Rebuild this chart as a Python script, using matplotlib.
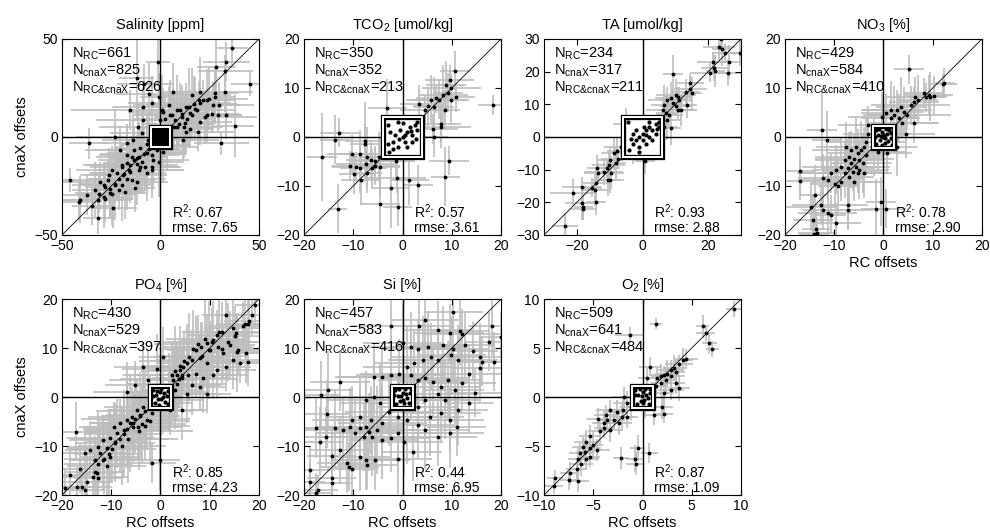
import matplotlib
matplotlib.use("Agg")
import matplotlib.pyplot as plt
from matplotlib.patches import Rectangle
import numpy as np

plt.rcParams['font.family'] = ['Liberation Sans', 'DejaVu Sans']
plt.rcParams['mathtext.fontset'] = 'custom'
plt.rcParams['mathtext.rm'] = 'Liberation Sans'

# ---- data: (RC offset, cnaX offset, RC err, cnaX err) ----
sal_pts = [
    (36.3, 45.2, 8, 10), (-1.1, 38.1, 6, 12), (33.5, 38.4, 12, 10), (28.4, 35.9, 10, 14),
    (32.8, 33.8, 14, 8), (45.6, 27, 10, 6), (-12.1, 29.9, 9, 20), (-8.3, 27, 14, 10),
    (-5.6, 22, 18, 16), (-0.6, 20.6, 10, 12), (6.5, 23, 8, 15), (15.8, 21.4, 20, 14),
    (20, 23, 12, 18), (21.7, 18.9, 16, 10), (13.2, 15.5, 18, 12), (9.9, 13.8, 22, 14),
    (4.8, 11.2, 16, 18), (7.3, 8.7, 12, 10), (10.7, 10.4, 14, 16), (14.9, 12.1, 10, 12),
    (18.3, 13.8, 20, 9), (23.4, 11.2, 16, 14), (29.3, 11.2, 12, 8), (33.5, 11.2, 8, 12),
    (37.7, 5.6, 10, 16), (30.9, -3.2, 14, 6), (8.2, 5.3, 16, 12), (12.4, 7, 10, 14),
    (4, 4.4, 12, 8), (19.1, 2.7, 18, 10), (-8.7, 8.7, 24, 12), (-15.4, 13.8, 30, 10),
    (-23, 0.2, 20, 14), (-36.5, -3.2, 10, 8), (-13.7, -1.5, 16, 16), (-10.4, -5.8, 12, 10),
    (-7, -8.3, 20, 18), (-12.1, -10.9, 14, 12), (-14.6, -10, 18, 10), (-17.1, -13.4, 12, 14),
    (-19.6, -15.1, 16, 12), (-15.4, -17.7, 10, 16), (-18.8, -19.4, 22, 10), (-22.2, -18.5, 14, 14),
    (-24.7, -16.8, 18, 12), (-26.4, -21.9, 12, 10), (-23, -24.5, 16, 18), (-28.1, -25.3, 10, 12),
    (-30.6, -22.8, 20, 10), (-33.1, -27, 12, 14), (-37.4, -29.6, 14, 10), (-40.7, -32.1, 10, 12),
    (-31.5, -32.1, 16, 8), (-28.9, -30.4, 12, 16), (-25.5, -28.7, 18, 12), (-21.3, -27, 14, 10),
    (-17.9, -27.9, 10, 14), (-12.1, -22.8, 16, 12), (-23.9, -36.4, 12, 10), (-31.5, -41.5, 8, 8),
    (-45.8, -21.9, 10, 6), (-41.6, -33, 12, 10), (-3.6, -11.7, 18, 14), (-1.9, -6.6, 14, 10),
    (1.4, -7.5, 12, 16), (3.1, -4.9, 16, 12), (13.2, 2.7, 14, 10), (11.5, -1.5, 18, 12),
    (26.7, 16.3, 14, 12), (23.4, 18.9, 10, 16), (20, 17.2, 16, 10), (27.6, 22.3, 12, 14),
    (-8.7, 15.5, 16, 10), (-4.5, 17.2, 12, 14), (1.4, 12.9, 18, 12), (-0.2, 8.7, 14, 16),
    (-11.2, 5.3, 20, 12), (-9.5, 1.9, 16, 14), (-17.1, -3.2, 14, 10), (-20.5, -6.6, 18, 12),
    (-6.2, -1.5, 12, 10), (-4.5, -15.1, 14, 12), (-7, -18.5, 10, 14), (-10.4, -15.1, 16, 12),
    (-14.6, -21.9, 12, 10), (-12.9, -26.2, 10, 12),
    (5.8, 11.1, 20, 12), (8.4, 13.6, 14, 18), (10.9, 11.9, 24, 10), (13.5, 9.4, 12, 14),
    (16, 11.1, 18, 12), (17.7, 14.5, 10, 16), (19.4, 18.7, 16, 10), (16.8, 17, 22, 14),
    (14.3, 15.3, 12, 20), (9.2, 6.8, 18, 12), (6.7, 5.1, 14, 10), (11.8, 5.1, 20, 16),
    (15.1, 4.3, 12, 10), (20.2, 7.7, 16, 12), (22.8, 10.2, 26, 14), (26.1, 11.9, 14, 10),
    (29.5, 16.2, 18, 12), (27.8, 20.4, 10, 14), (32.9, 22.9, 14, 10), (24.5, 19.6, 20, 16),
    (2.5, 9.4, 16, 12), (0.8, 13.6, 12, 18), (4.1, 16.2, 18, 10),
    (-6, -5.9, 16, 12), (-8.5, -8.5, 22, 14), (-11.1, -10.2, 14, 18), (-13.6, -11.9, 18, 10),
    (-11.9, -13.6, 12, 14), (-15.3, -14.5, 24, 12), (-9.4, -12.8, 14, 16), (-7.7, -15.3, 18, 12),
    (-16.2, -17, 12, 14), (-18.7, -18.7, 16, 10), (-17, -21.3, 20, 16), (-21.2, -21.3, 12, 12),
    (-19.5, -24.7, 14, 18), (-22.9, -23.8, 18, 10), (-25.5, -26.4, 10, 14), (-11.1, -17, 22, 12),
    (-4.3, -9.4, 14, 16), (-2.6, -4.3, 18, 12), (-6.9, -3.4, 12, 14), (-13.6, -6.8, 20, 12),
    (-17, -9.4, 14, 16), (-19.5, -14.5, 18, 10), (-26.3, -19.6, 12, 14), (-28.8, -24.7, 16, 12),
    (-31.4, -29, 10, 10), (-28, -31.6, 14, 12), (-24.6, -29, 12, 16), (-34.8, -35, 10, 10),
    (-4.3, -17, 16, 14), (-0.9, -12.8, 12, 18),
]
sal_box = [
    (-3.5, 3.2), (-2.8, 1.5), (-2, 2.8), (-1.2, 0.5), (-0.5, 2), (0.3, 1.2), (1, 3), (1.8, 0.8),
    (2.5, 2.2), (3.2, 1), (3.6, 3.5), (-3.8, -0.5), (-3, -2), (-2.2, -0.8), (-1.5, -3), (-0.8, -1.2),
    (0, -0.3), (0.8, -2), (1.5, -0.8), (2.2, -2.8), (3, -1.5), (3.7, -3.3), (-3.4, -3.6), (-1, 3.6),
    (0.5, 3.8), (2.8, 3.8), (-2.5, -3.8), (0.2, -3.6), (3.8, 0), (-3.9, 1.8), (1.2, 1.5), (-1.8, -1.8),
    (2, 0), (-0.2, 0.8),
]

tco2_pts = [
    (10.6, 13.5, 3, 4), (9.6, 11.6, 5, 3), (8.8, 10.6, 4, 5), (9.9, 10.1, 6, 3), (9.2, 9.0, 3, 4),
    (8.2, 8.6, 5, 6), (10.8, 8.2, 4, 3), (9.8, 7.6, 3, 5), (7.5, 7.6, 6, 4), (6.8, 7.9, 4, 3),
    (5.8, 7.6, 5, 5), (5.1, 6.3, 3, 4), (6.4, 6.2, 4, 6), (4.5, 5.5, 5, 3), (8.7, 5.5, 3, 4),
    (7.9, 2.7, 4, 5), (7.8, 2.0, 6, 3), (6.3, -0.1, 3, 4), (6.2, 1.6, 5, 3), (3.4, 6.7, 4, 4),
    (18.4, 6.5, 3, 2), (-3.1, 5.9, 4, 6), (-12.8, 0.9, 4, 3), (-13.7, -0.6, 3, 5), (-7.7, -0.9, 4, 8),
    (-7.7, -1.4, 3, 4), (-10.3, -3.5, 5, 4), (-8.6, -3.5, 4, 5), (-7.2, -4.0, 3, 6), (-6.5, -4.7, 5, 4),
    (-5.5, -5.0, 4, 3), (-4.8, -4.0, 3, 5), (-5.5, -5.9, 5, 4), (-4.5, -6.1, 4, 6), (-6.2, -6.4, 3, 4),
    (-7.5, -5.6, 6, 3), (-8.6, -6.4, 4, 5), (-9.9, -7.6, 3, 4), (-9.4, -6.1, 5, 3), (-8.4, -8.8, 4, 5),
    (-7.2, -7.4, 3, 4), (-10.6, -5.9, 4, 3), (-16.4, -4.1, 3, 9), (-1.4, -5.0, 4, 4), (-1.2, -8.4, 6, 3),
    (1.4, -8.8, 4, 5), (3.1, -9.8, 3, 4), (9.4, -4.8, 4, 3), (8.7, -8.1, 3, 6), (-4.6, -13.7, 4, 6),
    (-1.0, -14.2, 3, 4), (-13.2, -14.6, 2, 5), (-2.4, -10.5, 4, 8),
]
tco2_box = [
    (-3, 2.5), (-2.5, 1), (-2, -1), (-1.5, 0.5), (-1, -2), (-0.5, 1.5), (0, 0), (0.5, -1), (1, 1),
    (1.5, 2), (2, 0.5), (2.5, 2.5), (3, 1.5), (-2, -2.5), (-3, -1.5), (1, -2), (2, -1), (0, 2.8),
    (-1, 3), (3, 3), (-2.8, -3), (0.5, 0.5), (1.8, 1.2), (-0.8, -0.5), (2.8, -0.5),
]

ta_pts = [
    (23.8, 29.9, 4, 3), (23.3, 27.7, 5, 4), (24.1, 26.8, 3, 5), (25.1, 25.6, 4, 3), (29.7, 25.6, 3, 4),
    (26.3, 23.1, 4, 5), (21.5, 23.1, 5, 3), (21.8, 21.0, 4, 4), (20.5, 19.7, 6, 3), (22.2, 20.2, 3, 5),
    (26.1, 19.5, 4, 4), (9.2, 19.2, 3, 6), (14.6, 16.4, 4, 3), (14.6, 14.6, 5, 4), (15.1, 13.4, 3, 5),
    (13.3, 13.9, 4, 4), (10.2, 12.9, 6, 5), (10.7, 12.3, 4, 3), (11.2, 11.3, 3, 4), (8.7, 11.8, 5, 5),
    (7.6, 11.3, 6, 4), (6.6, 9.8, 4, 6), (9.2, 10.3, 3, 4), (10.2, 9.5, 5, 3), (11.7, 8.3, 4, 5),
    (6.1, 8.3, 5, 4), (7.1, 7.4, 3, 5), (8.2, 6.7, 4, 4), (10.7, 8.3, 6, 3), (13.5, 9.8, 3, 4),
    (7.6, 5.2, 4, 6), (8.7, 2.7, 3, 5), (6.6, 3.2, 4, 4), (-2.8, -3.2, 4, 5), (-6.7, -3.0, 5, 3),
    (-7.7, -4.2, 3, 4), (-8.6, -5.0, 4, 5), (-7.5, -6.8, 5, 3), (-9.8, -7.0, 4, 4), (-8.0, -8.1, 3, 5),
    (-10.3, -8.6, 5, 4), (-10.8, -9.6, 4, 3), (-13.9, -9.6, 3, 4), (-9.6, -10.9, 4, 5), (-11.8, -10.6, 6, 4),
    (-13.7, -11.1, 4, 3), (-9.8, -13.2, 3, 4), (-10.6, -13.2, 5, 5), (-14.1, -14.2, 4, 4), (-15.4, -15.5, 3, 3),
    (-14.4, -16.2, 4, 5), (-18.5, -15.2, 6, 3), (-21.3, -17.0, 7, 4), (-14.1, -19.8, 3, 4), (-18.5, -20.3, 5, 5),
    (-18.0, -21.5, 3, 4), (-18.0, -22.1, 4, 3), (-23.6, -27.2, 4, 4), (-4.9, 4.0, 4, 5), (0.7, -7.2, 3, 4),
]
ta_box = [
    (-4.5, 4.5), (-3, 1), (-2, -1), (-1, 0), (0, -1), (1, 2), (2, 3), (3, 2), (4, 4), (5, 4.5),
    (4, 1), (2, 0), (-1, -3), (-3, -2), (-4, -4), (0, 1), (1, -2), (3, -1), (-2, 2), (5, 3),
    (2, 4.5), (-1, -4.5), (1, 0.5), (-3.5, -0.5), (4.5, 2.5), (0.5, 3),
]

no3_pts = [
    (5.2, 13.8, 3, 3), (12.0, 10.8, 3, 2), (12.3, 11.0, 2, 3), (8.2, 9.0, 4, 3), (9.2, 8.6, 5, 4),
    (9.5, 8.2, 3, 5), (8.7, 8.1, 4, 3), (10.2, 8.4, 3, 4), (6.5, 8.2, 6, 4), (7.0, 7.6, 4, 5),
    (6.2, 7.2, 5, 3), (5.5, 6.5, 8, 4), (3.5, 6.2, 5, 6), (2.8, 5.5, 7, 4), (4.2, 5.2, 4, 5),
    (4.8, 4.5, 9, 3), (2.1, 4.5, 5, 6), (1.5, 3.8, 6, 4), (3.2, 3.8, 4, 5), (3.8, 2.8, 7, 3),
    (6.2, 2.8, 5, 4), (4.5, 0.7, 6, 5), (2.8, -2.0, 4, 6), (0.8, -3.3, 5, 4), (-12.5, 1.4, 3, 8),
    (-11.5, -0.7, 3, 6), (-3.2, 2.4, 6, 4), (-3.2, 0.7, 5, 5), (-3.9, -2.0, 7, 4), (-4.6, -2.7, 5, 6),
    (-5.2, -3.3, 6, 5), (-3.6, -3.7, 4, 4), (-5.9, -4.4, 8, 5), (-4.9, -4.7, 5, 4), (-4.2, -5.4, 6, 6),
    (-6.6, -5.4, 4, 5), (-5.6, -6.1, 7, 4), (-7.2, -6.4, 5, 6), (-6.2, -7.1, 6, 4), (-7.9, -7.4, 9, 5),
    (-6.9, -8.1, 5, 6), (-8.6, -9.1, 6, 4), (-9.9, -9.5, 5, 5), (-9.3, -10.1, 4, 6), (-11.3, -8.8, 6, 4),
    (-12.3, -8.4, 5, 5), (-5.2, -7.4, 7, 4), (-17.0, -6.9, 3, 5), (-17.0, -8.9, 4, 4), (-14.0, -11.8, 3, 6),
    (-0.5, -13.2, 3, 5), (0.5, -14.6, 4, 4), (-1.5, -14.6, 3, 6), (-7.2, -13.9, 4, 5), (-7.2, -14.9, 5, 4),
    (-12.6, -13.9, 6, 4), (-14.8, -14.2, 5, 5), (-12.3, -14.9, 4, 4), (-11.3, -15.6, 6, 5), (-10.7, -15.9, 3, 4),
    (-14.3, -16.9, 4, 5), (-13.6, -18.8, 3, 4), (-13.4, -19.5, 4, 3), (-14.1, -19.8, 3, 3), (-9.6, -17.5, 5, 4),
    (-7.6, -2.0, 6, 5), (-6.6, -2.7, 8, 4), (-5.6, -2.0, 5, 6), (-6.9, -4.0, 7, 5), (-7.9, -4.7, 6, 4),
    (-8.6, -6.1, 8, 6), (-9.6, -6.7, 5, 5), (-10.6, -7.4, 7, 4), (-4.9, -6.7, 6, 6), (-3.9, -7.4, 5, 5),
    (-5.9, -9.1, 6, 4), (-3.6, -1.0, 8, 5), (-1.9, -2.0, 5, 6), (-1.2, -3.0, 6, 4), (-0.2, 4.1, 7, 5),
    (0.5, 4.8, 5, 4), (1.5, 5.5, 6, 6),
]
no3_box = [
    (-1.6, 1.5), (-1.2, 0.4), (-0.8, -0.6), (-0.4, 1.0), (0, 0), (0.4, -1.2), (0.8, 0.6), (1.2, 1.4),
    (1.6, -0.3), (-1.5, -1.4), (-0.2, -1.6), (0.6, 1.7), (1.5, 0.9), (-1.0, 1.7), (0.2, 0.5),
    (-0.6, 0.2), (1.0, -0.9), (1.7, -1.6), (-1.7, 0.1), (0.4, -0.2),
]

po4_pts = [
    (13.4, 16.7, 5, 6), (19.1, 18.8, 4, 5), (18.5, 16.7, 6, 4), (17.8, 15.0, 5, 6), (16.8, 14.4, 7, 5),
    (14.8, 14.0, 6, 8), (15.4, 13.0, 5, 4), (12.4, 13.3, 8, 6), (11.4, 12.7, 6, 5), (10.7, 11.6, 7, 8),
    (9.4, 11.0, 5, 6), (8.3, 10.3, 8, 5), (7.3, 9.6, 6, 7), (10.0, 9.6, 5, 6), (11.7, 10.3, 7, 4),
    (12.7, 8.9, 6, 5), (14.1, 10.6, 5, 7), (15.8, 9.6, 6, 5), (17.4, 8.9, 5, 6), (17.8, 7.2, 4, 5),
    (16.1, 6.9, 6, 4), (14.8, 7.6, 7, 6), (13.4, 6.2, 5, 5), (11.4, 5.5, 8, 6), (9.4, 6.9, 6, 7),
    (8.0, 7.9, 5, 5), (6.3, 7.6, 7, 6), (5.3, 6.9, 6, 8), (4.6, 6.2, 8, 5), (3.9, 5.5, 6, 6),
    (3.3, 4.5, 7, 7), (2.6, 3.5, 5, 6), (4.3, 3.8, 6, 5), (5.6, 4.5, 8, 6), (7.3, 4.8, 6, 5),
    (8.7, 3.8, 5, 7), (10.7, 4.5, 7, 5), (6.3, 2.4, 6, 6), (8.0, 2.1, 5, 5), (5.3, 0.7, 7, 6),
    (9.4, 0.7, 5, 4), (2.9, 1.4, 6, 8), (1.9, -0.6, 7, 6), (-3.5, 6.2, 6, 5), (0.6, 8.2, 5, 6),
    (-0.8, 5.8, 7, 7), (-2.5, 3.5, 8, 6), (-5.2, 2.4, 6, 5), (-6.8, 1.1, 7, 6), (-3.5, -2.0, 8, 7),
    (-4.8, -2.7, 6, 6), (-4.1, -3.7, 7, 5), (-5.8, -4.0, 9, 6), (-6.8, -4.7, 6, 8), (-5.5, -5.4, 8, 6),
    (-8.2, -5.4, 6, 5), (-4.5, -6.1, 7, 7), (-2.8, -4.7, 6, 6), (-1.8, -3.3, 5, 5), (-7.5, -6.7, 8, 6),
    (-8.9, -7.4, 6, 7), (-9.5, -6.1, 7, 5), (-10.2, -8.4, 9, 6), (-9.2, -9.1, 6, 6), (-11.6, -8.8, 7, 5),
    (-12.6, -10.1, 6, 7), (-10.9, -10.5, 8, 5), (-12.2, -11.5, 6, 6), (-13.3, -12.9, 5, 5), (-11.6, -12.9, 7, 6),
    (-10.2, -12.2, 6, 5), (-14.3, -10.8, 5, 6), (-15.3, -11.5, 6, 5), (-17.1, -7.1, 4, 6), (-16.3, -14.6, 5, 5),
    (-12.9, -15.6, 4, 6), (-12.6, -16.6, 5, 4), (-18.3, -15.9, 4, 5), (-19.3, -18.6, 3, 4), (-17.0, -18.3, 5, 4),
    (-15.3, -19.0, 4, 5), (-0.1, -12.9, 4, 6), (-1.8, -13.5, 5, 4), (0.6, -1.3, 6, 6), (1.9, -2.7, 7, 5),
    (4.3, -2.7, 5, 6),
    (2.3, 4.4, 10, 7), (3.0, 5.4, 7, 9), (3.7, 3.7, 12, 6), (4.0, 6.4, 8, 8), (4.7, 7.4, 9, 6),
    (5.7, 8.1, 7, 9), (3.3, 2.7, 10, 7), (1.7, 1.0, 8, 8), (4.4, 4.4, 11, 6), (6.7, 9.8, 7, 8),
    (7.7, 10.8, 9, 6), (9.1, 11.8, 8, 9), (10.4, 11.2, 10, 7), (11.8, 13.2, 7, 8), (8.4, 8.4, 9, 7),
    (9.8, 9.5, 8, 10), (12.5, 9.8, 10, 7), (13.8, 11.2, 7, 8), (15.2, 12.5, 8, 6), (15.5, 9.1, 9, 8),
    (17.2, 14.9, 6, 7), (17.9, 15.6, 5, 6),
    (-3.1, -2.8, 10, 8), (-4.1, -3.8, 8, 9), (-5.1, -4.5, 11, 7), (-3.8, -5.5, 9, 8), (-6.1, -5.2, 8, 10),
    (-5.5, -6.2, 10, 7), (-6.8, -6.5, 9, 8), (-7.5, -7.6, 8, 9), (-4.4, -6.9, 11, 8), (-3.1, -5.9, 9, 7),
    (-2.1, -4.8, 8, 9), (-8.2, -8.6, 10, 7), (-9.2, -9.3, 8, 8), (-9.9, -10.6, 9, 7), (-10.5, -11.6, 7, 9),
    (-11.5, -12.7, 8, 7), (-12.6, -13.7, 7, 8), (-13.2, -15.4, 6, 7), (-13.6, -16.4, 7, 6), (-14.9, -17.4, 5, 6),
    (-15.9, -18.4, 6, 5), (-10.9, -14.0, 8, 7), (-7.8, -9.9, 9, 8), (-6.5, -8.6, 10, 9),
]
po4_box = [
    (-1.5, 1.5), (-1.0, 0.5), (-0.5, -0.5), (0, 1.0), (0.5, 0), (1.0, -1.0), (1.5, 1.2), (-1.2, -1.3),
    (0.2, 1.7), (1.3, 0.3), (-0.3, -1.6), (0.8, 0.9), (-1.6, 0.2), (1.6, -1.5), (0.1, -0.3), (-0.7, 1.2),
]

si_pts = [
    (10.3, 17.4, 6, 5), (4.5, 15.7, 7, 6), (-2.4, 14.4, 8, 7), (3.4, 14.4, 6, 8), (7.2, 13.7, 7, 6),
    (11.6, 13.5, 6, 7), (12.1, 12.9, 8, 5), (9.6, 13.0, 7, 6), (17.5, 11.3, 5, 6), (19.9, 12.3, 4, 5),
    (18.2, 14.4, 5, 6), (1.7, 10.3, 9, 7), (0.0, 11.0, 8, 8), (3.1, 9.9, 7, 6), (5.1, 10.3, 8, 7),
    (8.2, 10.6, 6, 8), (10.3, 9.9, 7, 6), (12.7, 10.6, 6, 7), (14.4, 9.3, 5, 6), (15.8, 8.2, 6, 7),
    (16.2, 7.2, 5, 5), (18.5, 7.2, 4, 6), (15.8, 5.9, 6, 7), (13.4, 4.8, 7, 6), (11.3, 7.6, 8, 7),
    (9.9, 8.6, 7, 8), (7.2, 7.6, 9, 6), (5.8, 8.2, 8, 7), (4.1, 7.6, 7, 9), (2.4, 6.9, 8, 7),
    (1.0, 6.2, 9, 8), (-0.7, 4.8, 8, 7), (-2.4, 4.5, 7, 8), (-4.1, 4.1, 9, 6), (-5.8, 4.1, 8, 7),
    (1.7, 4.5, 7, 9), (3.1, 3.5, 8, 7), (4.5, 3.8, 9, 8), (6.2, 3.1, 7, 7), (7.9, 2.1, 8, 6),
    (9.2, 3.5, 7, 8), (10.6, 1.4, 6, 7), (12.0, 2.8, 7, 6), (7.2, 0.7, 8, 7), (4.5, -0.6, 9, 8),
    (3.1, -2.0, 8, 7), (5.5, -4.0, 7, 8), (7.9, -3.3, 8, 6), (9.6, -4.7, 7, 7), (11.0, -6.1, 6, 6),
    (9.6, -7.4, 7, 7), (7.2, -8.1, 8, 6), (4.5, -6.7, 9, 8), (3.1, -5.7, 8, 7), (1.0, -4.7, 9, 9),
    (-1.0, -4.0, 8, 8), (-2.7, -3.0, 9, 7), (-4.5, -1.3, 8, 8), (-5.8, 0.1, 9, 7), (-7.5, -0.6, 8, 6),
    (-15.1, 1.4, 5, 8), (-16.6, 0.4, 4, 7), (-12.7, 3.1, 6, 6), (-15.4, -3.5, 5, 7), (-17.5, -6.4, 4, 6),
    (-16.8, -9.1, 5, 7), (-15.5, -8.1, 6, 6), (-13.7, -6.4, 7, 8), (-12.0, -6.7, 8, 7), (-10.6, -6.1, 7, 8),
    (-9.6, -7.4, 8, 7), (-8.6, -6.4, 9, 8), (-7.5, -6.1, 8, 9), (-6.8, -7.1, 7, 8), (-7.9, -8.1, 8, 7),
    (-6.2, -8.1, 9, 8), (-5.1, -6.7, 8, 9), (-4.1, -5.4, 9, 8), (-6.5, -4.7, 8, 7), (-8.6, -4.0, 7, 8),
    (-10.3, -4.7, 8, 7), (-4.1, -8.8, 7, 8), (-2.4, -8.4, 8, 7), (-1.0, -7.4, 9, 8), (0.3, -9.1, 8, 7),
    (2.1, -11.2, 6, 6), (-1.0, -12.7, 7, 7), (-12.7, -10.8, 6, 7), (-14.4, -12.0, 5, 6), (-11.3, -13.5, 6, 6),
    (-10.3, -14.6, 5, 7), (-10.8, -14.2, 6, 5), (-7.5, -12.9, 7, 6), (-8.6, -12.2, 6, 7), (-5.5, -12.9, 7, 6),
    (-7.2, -13.9, 6, 5), (-18.8, -14.9, 4, 5), (-18.8, -17.3, 3, 4), (-17.1, -19.0, 4, 3), (-17.5, -19.5, 3, 4),
    (-14.4, -16.6, 5, 5), (-14.4, -17.5, 4, 6), (11.3, -2.7, 6, 7), (13.4, -1.3, 5, 6), (14.7, 0.9, 6, 5),
    (8.6, -0.6, 7, 8),
]
si_box = [
    (-1.5, 1.4), (-1.0, 0.3), (-0.5, -0.8), (0, 0.9), (0.5, 1.6), (1.0, -0.2), (1.5, 0.8), (-1.3, -1.5),
    (0.3, -1.3), (1.4, -1.2), (-0.3, 0.2), (0.8, 0.6), (-1.7, 0.5), (-0.8, 1.7), (1.7, 1.6), (0.1, -0.6),
]

o2_pts = [
    (9.3, 9.0, 0.8, 0.8), (6.1, 7.2, 0.7, 1.2), (6.4, 6.5, 1.0, 0.9), (6.8, 5.5, 0.8, 1.1), (7.1, 4.9, 0.7, 0.8),
    (1.4, 7.5, 0.6, 0.6), (-1.3, 6.3, 1.5, 0.8), (4.4, 3.9, 1.2, 1.0), (4.1, 3.8, 1.0, 1.2), (3.7, 3.4, 1.4, 0.9),
    (3.2, 3.0, 1.1, 1.3), (2.9, 2.8, 1.3, 1.0), (3.4, 2.6, 0.9, 1.2), (2.5, 2.4, 1.2, 1.4), (2.2, 2.2, 1.4, 1.0),
    (1.9, 2.1, 1.0, 1.3), (1.5, 1.9, 1.3, 1.1), (2.4, 1.7, 1.1, 1.4), (2.9, 2.1, 1.4, 1.0), (1.9, 1.4, 1.0, 1.2),
    (1.4, 1.1, 1.2, 0.9), (3.4, 1.4, 0.9, 1.1), (3.7, 0.9, 1.1, 1.3), (2.9, 0.7, 1.3, 1.0), (2.2, 0.4, 1.0, 1.2),
    (0.8, 3.1, 1.2, 1.0), (0.5, 1.9, 1.0, 1.1), (2.0, -1.0, 1.1, 1.2), (2.2, -1.7, 0.9, 1.0), (1.2, -1.8, 1.2, 1.1),
    (0.3, -0.8, 1.0, 1.3), (-1.9, 0.0, 1.2, 1.0), (-1.6, -0.6, 1.4, 1.2), (-1.2, -1.0, 1.1, 1.3), (-2.0, -1.3, 1.3, 1.1),
    (-2.6, -1.5, 1.0, 1.2), (-3.3, -1.3, 1.4, 1.0), (-2.1, -2.0, 1.2, 1.3), (-2.9, -2.3, 1.1, 1.1), (-2.4, -2.7, 1.3, 1.2),
    (-3.6, -2.3, 1.0, 1.0), (-3.9, -2.7, 1.2, 1.3), (-4.5, -2.2, 1.1, 1.1), (-3.3, -3.4, 1.3, 1.2), (-3.9, -3.2, 1.0, 1.0),
    (-4.3, -3.5, 1.2, 1.3), (-5.3, -4.0, 1.1, 1.1), (-5.7, -4.6, 1.3, 1.2), (-5.0, -4.9, 1.0, 1.4), (-6.0, -5.1, 1.2, 1.0),
    (-5.3, -5.2, 1.1, 1.2), (-4.6, -5.4, 1.3, 1.1), (-5.8, -5.6, 1.0, 1.3), (-6.3, -5.7, 1.2, 1.0), (-6.5, -6.3, 1.1, 1.2),
    (-5.7, -6.3, 1.3, 1.1), (-5.3, -6.1, 1.0, 1.0), (-6.2, -6.8, 1.2, 1.3), (-6.7, -7.3, 1.1, 1.1), (-7.4, -7.8, 1.0, 1.2),
    (-7.5, -8.5, 0.9, 1.0), (-6.5, -8.6, 1.1, 1.1), (-8.9, -8.3, 0.8, 0.9), (-9.0, -9.1, 0.9, 0.8), (-0.8, -6.3, 0.9, 1.4),
    (-0.7, -6.8, 1.0, 1.2), (-0.5, -5.2, 0.8, 1.3), (0.7, -5.7, 0.9, 1.0), (-2.2, -6.2, 0.8, 1.1), (-3.7, -1.8, 1.2, 1.0),
    (-1.6, -2.0, 1.1, 1.2),
]
o2_box = [
    (-0.8, 0.7), (-0.5, 0.2), (-0.2, -0.4), (0, 0.5), (0.3, 0.8), (0.6, -0.1), (0.8, 0.4), (-0.6, -0.7),
    (0.1, -0.6), (0.7, -0.7), (-0.1, 0.1), (0.4, 0.2), (-0.8, 0.2), (-0.3, 0.8), (0.8, 0.8), (0.2, -0.3),
]

titles = ['Salinity [ppm]', r'TCO$_2$ [umol/kg]', 'TA [umol/kg]', r'NO$_3$ [%]',
          r'PO$_4$ [%]', 'Si [%]', r'O$_2$ [%]']
limits = [50, 20, 30, 20, 20, 20, 10]
xticks = [[-50, 0, 50], [-20, -10, 0, 10, 20], [-20, 0, 20], [-20, -10, 0, 10, 20],
          [-20, -10, 0, 10, 20], [-20, -10, 0, 10, 20], [-10, -5, 0, 5, 10]]
yticks = [[-50, 0, 50], [-20, -10, 0, 10, 20], [-30, -20, -10, 0, 10, 20, 30], [-20, -10, 0, 10, 20],
          [-20, -10, 0, 10, 20], [-20, -10, 0, 10, 20], [-10, -5, 0, 5, 10]]
box_half = [5, 4, 6, 2.2, 2.2, 2.2, 1.1]
n_rc = [661, 350, 234, 429, 430, 457, 509]
n_cnax = [825, 352, 317, 584, 529, 583, 641]
n_both = [626, 213, 211, 410, 397, 416, 484]
r2 = ['0.67', '0.57', '0.93', '0.78', '0.85', '0.44', '0.87']
rmse = ['7.65', '3.61', '2.88', '2.90', '4.23', '6.95', '1.09']

all_pts = [sal_pts, tco2_pts, ta_pts, no3_pts, po4_pts, si_pts, o2_pts]
all_box = [sal_box, tco2_box, ta_box, no3_box, po4_box, si_box, o2_box]

fig = plt.figure(figsize=(9.9, 5.32), dpi=100)

lefts = [0.0626, 0.3071, 0.5495, 0.7929]
bottoms = [0.5583, 0.0695]
w, h = 0.199, 0.3684

for i in range(7):
    row, col = divmod(i, 4)
    ax = fig.add_axes([lefts[col], bottoms[row], w, h])
    L = limits[i]
    x, y, xe, ye = np.array(all_pts[i], dtype=float).T

    # gray error crosses
    ax.errorbar(x, y, xerr=xe, yerr=ye, fmt='none', ecolor='0.74',
                elinewidth=1.2, capsize=0, zorder=1)
    ax.axhline(0, color='k', lw=1.0, zorder=2)
    ax.axvline(0, color='k', lw=1.0, zorder=2)
    ax.plot([-L, L], [-L, L], color='k', lw=0.6, zorder=2)
    ax.plot(x, y, '.', color='k', ms=3.5, zorder=3)

    # central box with the small offsets
    b = box_half[i]
    ax.add_patch(Rectangle((-b, -b), 2 * b, 2 * b, facecolor='white', edgecolor='none', zorder=4))
    bx, by = np.array(all_box[i], dtype=float).T
    ax.plot(bx, by, '.', color='k', ms=6 if i == 0 else 4, zorder=5)
    ax.add_patch(Rectangle((-b, -b), 2 * b, 2 * b, fill=False, edgecolor='k', lw=3.8, zorder=6))
    ax.add_patch(Rectangle((-b, -b), 2 * b, 2 * b, fill=False, edgecolor='white', lw=1.4, zorder=7))

    ax.set_xlim(-L, L)
    ax.set_ylim(-L, L)
    ax.set_xticks(xticks[i])
    ax.set_yticks(yticks[i])
    ax.tick_params(direction='in', top=True, right=True, length=4, labelsize=10, pad=3)
    ax.set_title(titles[i], fontsize=10.5, pad=7)
    for s in ax.spines.values():
        s.set_linewidth(0.8)

    ax.text(0.05, 0.908, r'N$_{\mathregular{RC}}$=%d' % n_rc[i], transform=ax.transAxes,
            fontsize=10.5, va='baseline', ha='left', zorder=8)
    ax.text(0.05, 0.821, r'N$_{\mathregular{cnaX}}$=%d' % n_cnax[i], transform=ax.transAxes,
            fontsize=10.5, va='baseline', ha='left', zorder=8)
    ax.text(0.05, 0.734, r'N$_{\mathregular{RC&cnaX}}$=%d' % n_both[i], transform=ax.transAxes,
            fontsize=10.5, va='baseline', ha='left', zorder=8)
    ax.text(0.56, 0.088, r'R$^{2}$: ' + r2[i], transform=ax.transAxes,
            fontsize=10, va='baseline', ha='left', zorder=8)
    ax.text(0.56, 0.014, 'rmse: ' + rmse[i], transform=ax.transAxes,
            fontsize=10, va='baseline', ha='left', zorder=8)

    if col == 0:
        ax.set_ylabel('cnaX offsets', fontsize=10.5)
    if row == 1 or i == 3:
        ax.set_xlabel('RC offsets', fontsize=10.5, labelpad=2)

fig.savefig('out.png', dpi=100)
